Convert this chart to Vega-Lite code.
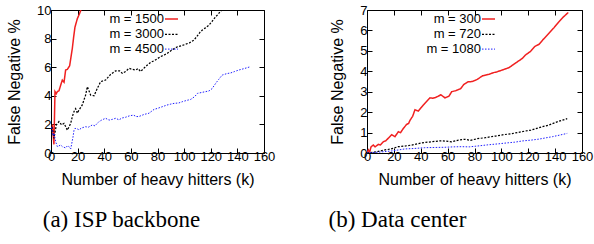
{
  "$schema": "https://vega.github.io/schema/vega-lite/v6.json",
  "padding": {"left": 6, "top": 3, "right": 0, "bottom": 0},
  "bounds": "flush",
  "spacing": 103,
  "resolve": {"scale": {"color": "independent", "strokeDash": "independent", "strokeWidth": "independent"}, "legend": {"color": "independent", "strokeDash": "independent"}},
  "config": {
    "view": {"stroke": "#000", "strokeWidth": 1},
    "font": "Liberation Sans",
    "axis": {
      "domain": false, "grid": false, "tickColor": "#000", "tickSize": -5, "tickWidth": 1, "labelFlush": false,
      "labelFont": "Liberation Sans", "labelFontSize": 13, "labelColor": "#000", "labelOverlap": false,
      "titleFont": "Liberation Sans", "titleFontSize": 16, "titleFontWeight": "normal", "titleColor": "#000"
    },
    "legend": {
      "orient": "none", "padding": 0, "rowPadding": 0.3, "symbolType": "stroke", "symbolSize": 169,
      "symbolStrokeWidth": 1.3, "labelFont": "Liberation Sans", "labelFontSize": 13, "labelColor": "#000",
      "labelAlign": "right", "labelOffset": -15, "title": null
    },
    "title": {"font": "Liberation Serif", "fontSize": 23, "fontWeight": "normal", "color": "#000", "orient": "bottom", "frame": "group", "anchor": "middle"}
  },
  "hconcat": [
    {
      "width": 213, "height": 143,
      "title": {"text": "(a) ISP backbone", "dx": -36, "offset": 22},
      "data": {"values": [
        {"k":1,"v":2.0,"m":"1500"},{"k":2.2,"v":0.6,"m":"1500"},{"k":3,"v":4.3,"m":"1500"},{"k":4,"v":4.15,"m":"1500"},{"k":4.8,"v":4.3,"m":"1500"},{"k":6,"v":4.35,"m":"1500"},{"k":7.3,"v":4.75,"m":"1500"},{"k":8.5,"v":5.1,"m":"1500"},{"k":9.8,"v":4.95,"m":"1500"},{"k":11,"v":5.8,"m":"1500"},{"k":12.3,"v":5.85,"m":"1500"},{"k":14,"v":6.1,"m":"1500"},{"k":15,"v":6.7,"m":"1500"},{"k":16,"v":7.3,"m":"1500"},{"k":17,"v":8.1,"m":"1500"},{"k":18,"v":8.8,"m":"1500"},{"k":19.8,"v":9.4,"m":"1500"},{"k":21,"v":9.65,"m":"1500"},{"k":22.5,"v":10,"m":"1500"},
        {"k":0,"v":2.07,"m":"3000"},{"k":1,"v":1.7,"m":"3000"},{"k":2.25,"v":1.03,"m":"3000"},{"k":4,"v":1.96,"m":"3000"},{"k":6,"v":2.2,"m":"3000"},{"k":8,"v":1.96,"m":"3000"},{"k":9.8,"v":2.07,"m":"3000"},{"k":12.3,"v":1.6,"m":"3000"},{"k":14.8,"v":2.07,"m":"3000"},{"k":16,"v":2.54,"m":"3000"},{"k":17.3,"v":2.9,"m":"3000"},{"k":18.5,"v":3.1,"m":"3000"},{"k":19.8,"v":2.78,"m":"3000"},{"k":21,"v":3.0,"m":"3000"},{"k":23.5,"v":3.36,"m":"3000"},{"k":26,"v":4.05,"m":"3000"},{"k":27.3,"v":4.64,"m":"3000"},{"k":29.8,"v":4.05,"m":"3000"},{"k":32.3,"v":4.0,"m":"3000"},{"k":34.8,"v":4.52,"m":"3000"},{"k":37.3,"v":4.99,"m":"3000"},{"k":41,"v":5.1,"m":"3000"},{"k":44.8,"v":5.5,"m":"3000"},{"k":48.6,"v":5.75,"m":"3000"},{"k":51.5,"v":5.75,"m":"3000"},{"k":53.6,"v":5.57,"m":"3000"},{"k":56,"v":5.7,"m":"3000"},{"k":58.6,"v":5.92,"m":"3000"},{"k":61,"v":5.85,"m":"3000"},{"k":63.6,"v":5.8,"m":"3000"},{"k":65.5,"v":5.9,"m":"3000"},{"k":67.3,"v":5.7,"m":"3000"},{"k":70,"v":5.95,"m":"3000"},{"k":72.4,"v":6.15,"m":"3000"},{"k":75,"v":6.35,"m":"3000"},{"k":77.4,"v":6.45,"m":"3000"},{"k":80,"v":6.6,"m":"3000"},{"k":82.5,"v":6.75,"m":"3000"},{"k":85,"v":6.85,"m":"3000"},{"k":87.4,"v":6.97,"m":"3000"},{"k":90,"v":7.15,"m":"3000"},{"k":92.5,"v":7.3,"m":"3000"},{"k":95,"v":7.43,"m":"3000"},{"k":98,"v":7.5,"m":"3000"},{"k":101,"v":7.6,"m":"3000"},{"k":104,"v":7.7,"m":"3000"},{"k":107.4,"v":7.9,"m":"3000"},{"k":110,"v":8.2,"m":"3000"},{"k":112,"v":8.45,"m":"3000"},{"k":113.7,"v":8.6,"m":"3000"},{"k":116,"v":8.75,"m":"3000"},{"k":118.7,"v":8.95,"m":"3000"},{"k":121,"v":9.2,"m":"3000"},{"k":123.7,"v":9.53,"m":"3000"},{"k":125.5,"v":9.7,"m":"3000"},{"k":127.5,"v":9.93,"m":"3000"},{"k":128.5,"v":10.0,"m":"3000"},
        {"k":0.5,"v":1.8,"m":"4500"},{"k":1.5,"v":1.2,"m":"4500"},{"k":2.3,"v":1.38,"m":"4500"},{"k":3.5,"v":0.79,"m":"4500"},{"k":4.8,"v":0.44,"m":"4500"},{"k":6,"v":0.5,"m":"4500"},{"k":7.3,"v":0.56,"m":"4500"},{"k":8.5,"v":0.45,"m":"4500"},{"k":9.8,"v":0.4,"m":"4500"},{"k":11,"v":0.35,"m":"4500"},{"k":12.3,"v":0.5,"m":"4500"},{"k":13.5,"v":0.45,"m":"4500"},{"k":14.8,"v":0.28,"m":"4500"},{"k":16.5,"v":1.1,"m":"4500"},{"k":17.3,"v":1.6,"m":"4500"},{"k":18,"v":1.72,"m":"4500"},{"k":19.5,"v":1.7,"m":"4500"},{"k":21,"v":1.62,"m":"4500"},{"k":23,"v":1.75,"m":"4500"},{"k":26,"v":1.84,"m":"4500"},{"k":28,"v":1.8,"m":"4500"},{"k":31,"v":1.96,"m":"4500"},{"k":33,"v":1.9,"m":"4500"},{"k":36,"v":2.19,"m":"4500"},{"k":38,"v":2.3,"m":"4500"},{"k":41,"v":2.43,"m":"4500"},{"k":43.6,"v":2.3,"m":"4500"},{"k":46,"v":2.35,"m":"4500"},{"k":48.6,"v":2.43,"m":"4500"},{"k":51,"v":2.32,"m":"4500"},{"k":53.5,"v":2.45,"m":"4500"},{"k":56,"v":2.5,"m":"4500"},{"k":59,"v":2.6,"m":"4500"},{"k":62,"v":2.65,"m":"4500"},{"k":64,"v":2.55,"m":"4500"},{"k":66,"v":2.55,"m":"4500"},{"k":70,"v":2.7,"m":"4500"},{"k":73.6,"v":2.78,"m":"4500"},{"k":77.4,"v":3.05,"m":"4500"},{"k":80,"v":3.12,"m":"4500"},{"k":84,"v":3.25,"m":"4500"},{"k":87,"v":3.35,"m":"4500"},{"k":90,"v":3.42,"m":"4500"},{"k":92.4,"v":3.47,"m":"4500"},{"k":96,"v":3.5,"m":"4500"},{"k":99,"v":3.6,"m":"4500"},{"k":102,"v":3.68,"m":"4500"},{"k":105,"v":3.75,"m":"4500"},{"k":108,"v":3.95,"m":"4500"},{"k":110,"v":4.17,"m":"4500"},{"k":114,"v":4.25,"m":"4500"},{"k":118.7,"v":4.34,"m":"4500"},{"k":121,"v":4.5,"m":"4500"},{"k":123.7,"v":4.87,"m":"4500"},{"k":126,"v":5.15,"m":"4500"},{"k":128.6,"v":5.45,"m":"4500"},{"k":132,"v":5.55,"m":"4500"},{"k":135,"v":5.6,"m":"4500"},{"k":138,"v":5.7,"m":"4500"},{"k":141,"v":5.8,"m":"4500"},{"k":145,"v":5.9,"m":"4500"},{"k":150,"v":6.04,"m":"4500"}
      ]},
      "layer": [
        {
          "mark": {"type": "line", "clip": true},
          "encoding": {
            "x": {"field": "k", "type": "quantitative", "scale": {"domain": [0, 160], "nice": false, "zero": false},
                  "axis": {"orient": "bottom", "values": [0,20,40,60,80,100,120,140,160], "labelPadding": 2, "title": "Number of heavy hitters (k)", "titlePadding": 8}},
            "y": {"field": "v", "type": "quantitative", "scale": {"domain": [0, 10], "nice": false},
                  "axis": {"orient": "left", "values": [0,2,4,6,8,10], "labelPadding": 5, "title": "False Negative %", "titlePadding": 14}},
            "color": {"field": "m", "type": "nominal", "scale": {"domain": ["1500","3000","4500"], "range": ["#f02020","#000000","#1f1fff"]},
                      "legend": {"legendX": 113, "legendY": 1.5, "labelExpr": "'m = ' + datum.label"}},
            "strokeDash": {"field": "m", "type": "nominal", "scale": {"domain": ["1500","3000","4500"], "range": [[1,0],[2,1.5],[1.5,1.5]]},
                      "legend": {"legendX": 113, "legendY": 1.5, "labelExpr": "'m = ' + datum.label"}},
            "strokeWidth": {"field": "m", "type": "nominal", "scale": {"domain": ["1500","3000","4500"], "range": [1.5,1,1]}, "legend": null}
          }
        },
        {
          "mark": {"type": "line", "opacity": 0},
          "encoding": {
            "x": {"field": "k", "type": "quantitative", "axis": {"orient": "top", "values": [0,20,40,60,80,100,120,140,160], "labels": false, "title": null}},
            "y": {"field": "v", "type": "quantitative", "axis": {"orient": "right", "values": [0,2,4,6,8,10], "labels": false, "title": null}},
            "detail": {"field": "m"}
          }
        }
      ],
      "resolve": {"axis": {"x": "independent", "y": "independent"}}
    },
    {
      "width": 215, "height": 143,
      "title": {"text": "(b) Data center", "dx": -77, "offset": 22},
      "data": {"values": [
        {"k":0,"v":0,"m":"300"},{"k":1,"v":0.15,"m":"300"},{"k":2,"v":0.05,"m":"300"},{"k":3,"v":0.3,"m":"300"},{"k":4.7,"v":0.39,"m":"300"},{"k":6,"v":0.3,"m":"300"},{"k":8.4,"v":0.42,"m":"300"},{"k":10,"v":0.4,"m":"300"},{"k":12.1,"v":0.55,"m":"300"},{"k":14,"v":0.6,"m":"300"},{"k":15.8,"v":0.72,"m":"300"},{"k":18.4,"v":0.9,"m":"300"},{"k":20.8,"v":0.8,"m":"300"},{"k":23.3,"v":1.04,"m":"300"},{"k":25,"v":1.0,"m":"300"},{"k":27,"v":1.2,"m":"300"},{"k":29.5,"v":1.4,"m":"300"},{"k":31,"v":1.45,"m":"300"},{"k":32,"v":1.6,"m":"300"},{"k":34,"v":1.8,"m":"300"},{"k":35.7,"v":2.12,"m":"300"},{"k":38.2,"v":2.05,"m":"300"},{"k":40,"v":2.2,"m":"300"},{"k":41.9,"v":2.35,"m":"300"},{"k":44,"v":2.5,"m":"300"},{"k":46.9,"v":2.7,"m":"300"},{"k":49,"v":2.68,"m":"300"},{"k":51,"v":2.72,"m":"300"},{"k":53,"v":2.78,"m":"300"},{"k":55,"v":2.85,"m":"300"},{"k":58,"v":2.7,"m":"300"},{"k":61,"v":2.78,"m":"300"},{"k":63,"v":3.0,"m":"300"},{"k":66,"v":3.05,"m":"300"},{"k":69.7,"v":3.15,"m":"300"},{"k":72,"v":3.35,"m":"300"},{"k":75,"v":3.48,"m":"300"},{"k":78.3,"v":3.5,"m":"300"},{"k":82,"v":3.6,"m":"300"},{"k":86,"v":3.78,"m":"300"},{"k":90.8,"v":3.85,"m":"300"},{"k":94,"v":3.93,"m":"300"},{"k":97,"v":3.98,"m":"300"},{"k":100.7,"v":4.06,"m":"300"},{"k":105.7,"v":4.18,"m":"300"},{"k":110,"v":4.38,"m":"300"},{"k":115.6,"v":4.63,"m":"300"},{"k":118,"v":4.8,"m":"300"},{"k":121.8,"v":4.98,"m":"300"},{"k":125,"v":5.22,"m":"300"},{"k":128,"v":5.32,"m":"300"},{"k":131,"v":5.55,"m":"300"},{"k":135.4,"v":5.86,"m":"300"},{"k":139,"v":6.12,"m":"300"},{"k":142.9,"v":6.43,"m":"300"},{"k":146,"v":6.65,"m":"300"},{"k":149.8,"v":6.88,"m":"300"},
        {"k":0,"v":0,"m":"720"},{"k":5,"v":0.04,"m":"720"},{"k":10,"v":0.1,"m":"720"},{"k":13.4,"v":0.15,"m":"720"},{"k":18,"v":0.2,"m":"720"},{"k":23.3,"v":0.31,"m":"720"},{"k":28,"v":0.34,"m":"720"},{"k":33.3,"v":0.39,"m":"720"},{"k":38,"v":0.46,"m":"720"},{"k":43.2,"v":0.52,"m":"720"},{"k":48,"v":0.55,"m":"720"},{"k":55.6,"v":0.6,"m":"720"},{"k":63,"v":0.55,"m":"720"},{"k":68,"v":0.63,"m":"720"},{"k":72.9,"v":0.67,"m":"720"},{"k":77,"v":0.62,"m":"720"},{"k":82,"v":0.7,"m":"720"},{"k":88,"v":0.75,"m":"720"},{"k":95.7,"v":0.83,"m":"720"},{"k":102,"v":0.9,"m":"720"},{"k":108,"v":0.95,"m":"720"},{"k":115.6,"v":1.05,"m":"720"},{"k":122,"v":1.12,"m":"720"},{"k":130.5,"v":1.29,"m":"720"},{"k":135,"v":1.36,"m":"720"},{"k":140.4,"v":1.5,"m":"720"},{"k":145,"v":1.6,"m":"720"},{"k":149,"v":1.68,"m":"720"},
        {"k":0,"v":0,"m":"1080"},{"k":8,"v":0.04,"m":"1080"},{"k":18.4,"v":0.1,"m":"1080"},{"k":28.3,"v":0.2,"m":"1080"},{"k":35,"v":0.22,"m":"1080"},{"k":43,"v":0.26,"m":"1080"},{"k":50,"v":0.27,"m":"1080"},{"k":58,"v":0.28,"m":"1080"},{"k":64,"v":0.3,"m":"1080"},{"k":70.5,"v":0.31,"m":"1080"},{"k":76,"v":0.3,"m":"1080"},{"k":82,"v":0.34,"m":"1080"},{"k":90,"v":0.4,"m":"1080"},{"k":98,"v":0.45,"m":"1080"},{"k":105,"v":0.5,"m":"1080"},{"k":110,"v":0.53,"m":"1080"},{"k":115.6,"v":0.59,"m":"1080"},{"k":122,"v":0.63,"m":"1080"},{"k":128,"v":0.68,"m":"1080"},{"k":133,"v":0.74,"m":"1080"},{"k":138,"v":0.8,"m":"1080"},{"k":143,"v":0.87,"m":"1080"},{"k":149,"v":0.96,"m":"1080"}
      ]},
      "layer": [
        {
          "mark": {"type": "line", "clip": true},
          "encoding": {
            "x": {"field": "k", "type": "quantitative", "scale": {"domain": [0, 160], "nice": false, "zero": false},
                  "axis": {"orient": "bottom", "values": [0,20,40,60,80,100,120,140,160], "labelPadding": 2, "title": "Number of heavy hitters (k)", "titlePadding": 8}},
            "y": {"field": "v", "type": "quantitative", "scale": {"domain": [0, 7], "nice": false},
                  "axis": {"orient": "left", "values": [0,1,2,3,4,5,6,7], "labelPadding": 5, "title": "False Negative %", "titlePadding": 14}},
            "color": {"field": "m", "type": "nominal", "scale": {"domain": ["300","720","1080"], "range": ["#f02020","#000000","#1f1fff"]},
                      "legend": {"legendX": 114, "legendY": 1.5, "labelExpr": "'m = ' + datum.label"}},
            "strokeDash": {"field": "m", "type": "nominal", "scale": {"domain": ["300","720","1080"], "range": [[1,0],[2,1.5],[1.5,1.5]]},
                      "legend": {"legendX": 114, "legendY": 1.5, "labelExpr": "'m = ' + datum.label"}},
            "strokeWidth": {"field": "m", "type": "nominal", "scale": {"domain": ["300","720","1080"], "range": [1.5,1,1]}, "legend": null}
          }
        },
        {
          "mark": {"type": "line", "opacity": 0},
          "encoding": {
            "x": {"field": "k", "type": "quantitative", "axis": {"orient": "top", "values": [0,20,40,60,80,100,120,140,160], "labels": false, "title": null}},
            "y": {"field": "v", "type": "quantitative", "axis": {"orient": "right", "values": [0,1,2,3,4,5,6,7], "labels": false, "title": null}},
            "detail": {"field": "m"}
          }
        }
      ],
      "resolve": {"axis": {"x": "independent", "y": "independent"}}
    }
  ]
}
